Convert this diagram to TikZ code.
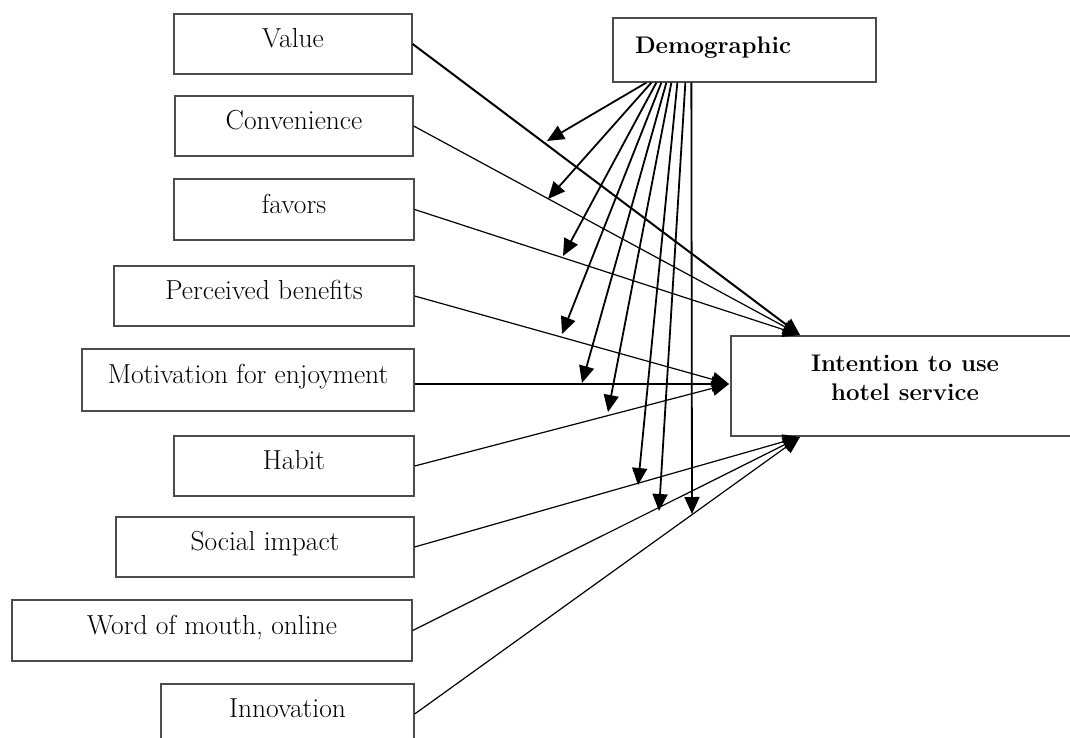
\documentclass[tikz,border=0pt]{standalone}
\usetikzlibrary{arrows.meta}
\begin{document}
\begin{tikzpicture}[x=1pt,y=-1pt,
  font=\fontsize{27.5}{32}\selectfont,
  fbox/.style={draw=black!70, line width=1.3pt, minimum height=60pt, text height=17pt, text depth=10pt, inner sep=0pt},
  tip/.style={-{Triangle[length=17pt,width=15pt]}},
  conn/.style={tip, line width=1.2pt},
  darr/.style={tip, line width=1.8pt}
]
\useasboundingbox (0,0) rectangle (1070,738);

% left factor boxes
\node[fbox, minimum width=238pt] (val)  at (293,44)    {Value};
\node[fbox, minimum width=238pt] (conv) at (294,126)   {Convenience};
\node[fbox, minimum width=240pt, minimum height=61pt] (fav) at (294,209.5) {favors};
\node[fbox, minimum width=300pt] (perc) at (264,296)   {Perceived benefits};
\node[fbox, minimum width=332pt, minimum height=62pt] (moti) at (248,380) {Motivation for enjoyment};
\node[fbox, minimum width=240pt] (habit) at (294,466)  {Habit};
\node[fbox, minimum width=298pt] (soc)  at (265,547)   {Social impact};
\node[fbox, minimum width=400pt, minimum height=61pt] (wom) at (212,630.5) {Word of mouth, online};
\node[fbox, minimum width=253pt] (inno) at (287.5,714) {Innovation};

% demographic
\node[fbox, minimum width=263pt, minimum height=64pt, text width=219pt, align=left, inner xsep=22pt,
      font=\fontsize{24}{29}\selectfont\bfseries] (demo) at (744.5,50) {Demographic};

% intention
\node[draw=black!70, line width=1.3pt, minimum width=341pt, minimum height=100pt, inner sep=0pt] (int) at (901.5,386) {};
\node[align=center, inner sep=0pt, font=\fontsize{24}{29}\selectfont\bfseries] (intlbl) at (905,378) {Intention to use\\hotel service};

% arrow targets on the intention box
\coordinate (itop)  at (800,335);
\coordinate (ileft) at (729,384);
\coordinate (ibot)  at (800,437);

% factor -> intention
\draw[conn, line width=2pt] (val.east) -- (itop);
\draw[conn] (conv.east) -- (itop);
\draw[conn] (fav.east) -- (itop);
\draw[conn] (perc.east) -- (ileft);
\draw[conn, line width=1.6pt] (moti.east |- ileft) -- (ileft);
\draw[conn] (habit.east) -- (ileft);
\draw[conn] (soc.east) -- (ibot);
\draw[conn] (wom.east) -- (ibot);
\draw[conn] (inno.east) -- (ibot);

% demographic moderating arrows
\coordinate (d1) at (547,141);
\coordinate (d2) at (548,199);
\coordinate (d3) at (563,256);
\coordinate (d4) at (562,334);
\coordinate (d5) at (582,383);
\coordinate (d6) at (608,412);
\coordinate (d7) at (638,485);
\coordinate (d8) at (659,511);
\coordinate (d9) at (692,514);

\draw[darr] ([xshift=34pt]demo.south west) -- (d1);
\draw[darr] ([xshift=39pt]demo.south west) -- (d2);
\draw[darr] ([xshift=44pt]demo.south west) -- (d3);
\draw[darr] ([xshift=49pt]demo.south west) -- (d4);
\draw[darr] ([xshift=54pt]demo.south west) -- (d5);
\draw[darr] ([xshift=59pt]demo.south west) -- (d6);
\draw[darr] ([xshift=65pt]demo.south west) -- (d7);
\draw[darr] ([xshift=73pt]demo.south west) -- (d8);
\draw[darr] ([xshift=79pt]demo.south west) -- (d9);
\end{tikzpicture}
\end{document}
